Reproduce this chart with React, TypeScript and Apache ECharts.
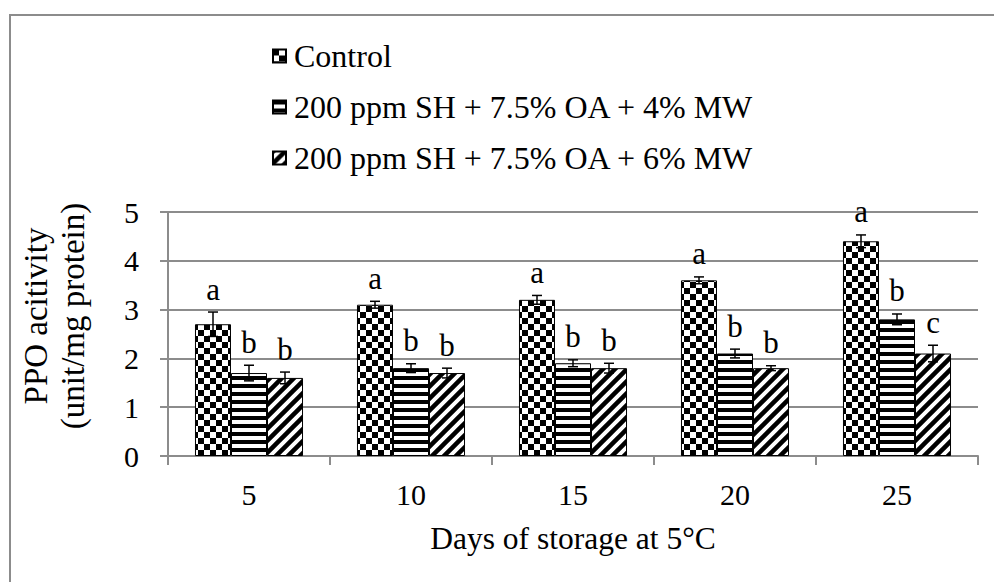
import React, { useEffect, useRef } from "react";
import * as echarts from "echarts";

const categories = ["5", "10", "15", "20", "25"];
const seriesNames = [
  "Control",
  "200 ppm SH + 7.5% OA + 4% MW",
  "200 ppm SH + 7.5% OA + 6% MW",
];
const controlValues = [2.7, 3.1, 3.2, 3.6, 4.4];
const controlErrors = [0.25, 0.07, 0.09, 0.07, 0.13];
const mw4Values = [1.7, 1.8, 1.9, 2.1, 2.8];
const mw4Errors = [0.16, 0.09, 0.07, 0.09, 0.11];
const mw6Values = [1.6, 1.7, 1.8, 1.8, 2.1];
const mw6Errors = [0.12, 0.1, 0.1, 0.05, 0.17];
const controlLetters = ["a", "a", "a", "a", "a"];
const mw4Letters = ["b", "b", "b", "b", "b"];
const mw6Letters = ["b", "b", "b", "b", "c"];
const yAxisTitle = "PPO acitivity\n(unit/mg protein)";
const xAxisTitle = "Days of storage at 5°C";

const FONT = "Liberation Serif";

function makeTile(kind: string) {
  const c = document.createElement("canvas");
  const size = kind === "horiz" ? 8 : 12;
  c.width = size;
  c.height = size;
  const g = c.getContext("2d")!;
  g.fillStyle = "#fff";
  g.fillRect(0, 0, size, size);
  g.fillStyle = "#000";
  g.strokeStyle = "#000";
  if (kind === "checker") {
    g.fillRect(0, 0, 6, 6);
    g.fillRect(6, 6, 6, 6);
  } else if (kind === "horiz") {
    g.fillRect(0, 0, 8, 4);
  } else {
    g.lineWidth = 4.5;
    g.beginPath();
    g.moveTo(-2, 14);
    g.lineTo(14, -2);
    g.moveTo(-8, 8);
    g.lineTo(8, -8);
    g.moveTo(4, 20);
    g.lineTo(20, 4);
    g.stroke();
  }
  return { image: c, repeat: "repeat", imageWidth: size, imageHeight: size };
}

export default function App() {
  const ref = useRef<HTMLDivElement>(null);
  useEffect(() => {
    if (!ref.current) return;
    const chart = echarts.init(ref.current, null, { renderer: "svg" });
    const patterns = [makeTile("checker"), makeTile("horiz"), makeTile("diag")];
    const values = [controlValues, mw4Values, mw6Values];
    const errors = [controlErrors, mw4Errors, mw6Errors];
    const letters = [controlLetters, mw4Letters, mw6Letters];
    const gapRatio = 1 / 3;

    const barSeries = values.map((vals, s) => ({
      name: seriesNames[s],
      type: "bar",
      data: vals,
      barGap: "0%",
      barCategoryGap: "33.3%",
      itemStyle: { color: patterns[s], borderColor: "#000", borderWidth: 1 },
      z: 2,
    }));

    const errSeries = values.map((vals, s) => ({
      name: "err" + s,
      type: "custom",
      z: 5,
      data: vals.map((v, i) => [i, v, errors[s][i]]),
      encode: { x: 0, y: 1 },
      renderItem: (params: any, api: any) => {
        const ci = api.value(0);
        const v = api.value(1);
        const e = api.value(2);
        const catW = api.size([1, 0])[0];
        const bw = (catW * (1 - gapRatio)) / 3;
        const base = api.coord([ci, v]);
        const x = base[0] + (s - 1) * bw;
        const top = api.coord([ci, v + e])[1];
        const bot = api.coord([ci, v - e])[1];
        const cap = 5;
        const st = { stroke: "#000", lineWidth: 1.5 };
        return {
          type: "group",
          children: [
            { type: "line", shape: { x1: x, y1: top, x2: x, y2: bot }, style: st },
            { type: "line", shape: { x1: x - cap, y1: top, x2: x + cap, y2: top }, style: st },
            { type: "line", shape: { x1: x - cap, y1: bot, x2: x + cap, y2: bot }, style: st },
            {
              type: "text",
              x: x,
              y: top - 23,
              style: {
                text: letters[s][params.dataIndex],
                fontSize: 31,
                fontFamily: FONT,
                fill: "#000",
                align: "center",
                verticalAlign: "middle",
              },
            },
          ],
        };
      },
    }));

    chart.setOption({
      animation: false,
      backgroundColor: "#fff",
      textStyle: { fontFamily: FONT, color: "#000" },
      grid: { left: 168, right: 16, top: 212, bottom: 126, containLabel: false },
      legend: {
        data: seriesNames,
        orient: "vertical",
        left: 272,
        top: 40,
        padding: 0,
        icon: "rect",
        itemWidth: 13,
        itemHeight: 13,
        itemGap: 19,
        selectedMode: false,
        textStyle: { fontSize: 32, fontFamily: FONT, color: "#000", padding: [0, 0, 0, 3] },
      },
      xAxis: {
        type: "category",
        data: categories,
        name: xAxisTitle,
        nameLocation: "middle",
        nameGap: 66,
        nameTextStyle: { fontSize: 31.5, fontFamily: FONT, color: "#000" },
        axisLine: { lineStyle: { color: "#8c8c8c", width: 2 } },
        axisTick: { show: true, length: 9, lineStyle: { color: "#8c8c8c", width: 2 } },
        axisLabel: { fontSize: 30, fontFamily: FONT, color: "#000", margin: 23 },
      },
      yAxis: {
        type: "value",
        min: 0,
        max: 5,
        interval: 1,
        axisLine: { show: true, lineStyle: { color: "#8c8c8c", width: 2 } },
        axisTick: { show: true, length: 8, lineStyle: { color: "#8c8c8c", width: 2 } },
        axisLabel: { fontSize: 30, fontFamily: FONT, color: "#000", margin: 29 },
        splitLine: { show: true, lineStyle: { color: "#8c8c8c", width: 2 } },
      },
      graphic: [
        {
          type: "rect",
          shape: { x: 10, y: 15, width: 1100, height: 700 },
          style: { fill: "none", stroke: "#8c8c8c", lineWidth: 2 },
          silent: true,
          z: -10,
        },
        {
          type: "text",
          x: 54,
          y: 316,
          rotation: Math.PI / 2,
          style: {
            text: yAxisTitle,
            fontSize: 33,
            fontFamily: FONT,
            fill: "#000",
            align: "center",
            verticalAlign: "middle",
            lineHeight: 37,
          },
        },
      ],
      series: [...barSeries, ...errSeries],
    });
    return () => chart.dispose();
  }, []);
  return (
    <div
      ref={ref}
      style={{ position: "absolute", left: 0, top: 0, width: 994, height: 582 }}
    />
  );
}
